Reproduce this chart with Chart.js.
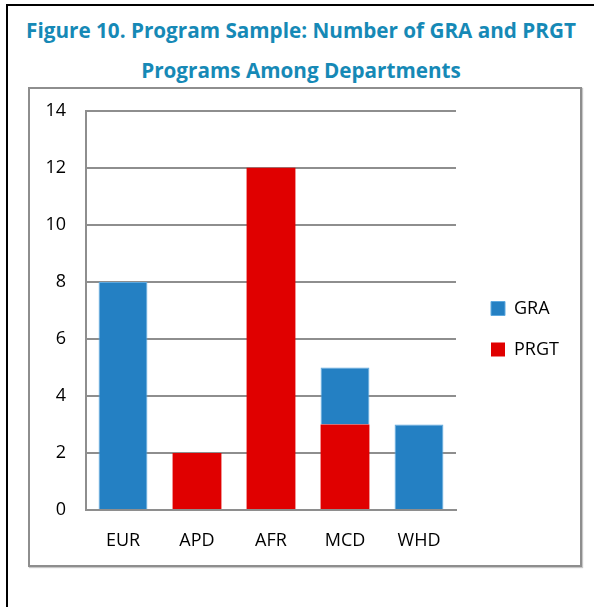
<!DOCTYPE html>
<html>
<head>
<meta charset="utf-8">
<script src="https://cdn.jsdelivr.net/npm/chart.js@4/dist/chart.umd.min.js"></script>
<style>
  html, body { margin: 0; padding: 0; background: #fff; }
  body { width: 594px; height: 607px; position: relative; overflow: hidden; font-family: "Open Sans", sans-serif; }
  #frame { position: absolute; left: 6px; top: 4px; width: 700px; height: 700px; border-top: 2px solid #000; border-left: 2px solid #000; }
  .title { position: absolute; left: 0; width: 602px; text-align: center; color: #1689b6; font-weight: bold; font-size: 20.7px; white-space: nowrap; line-height: 28px; }
  #box { position: absolute; left: 28px; top: 87px; width: 550px; height: 476px; border: 2px solid #8e8e8e; box-shadow: 1px 1px 1px #c8c8c8; }
  #chartWrap { position: absolute; left: 0; top: -9px; width: 550px; height: 485px; }
</style>
</head>
<body>
<div id="frame"></div>
<div class="title" style="top:16px;">Figure 10. Program Sample: Number of GRA and PRGT</div>
<div class="title" style="top:56px;">Programs Among Departments</div>
<div id="box"><div id="chartWrap"><canvas id="c" width="550" height="485"></canvas></div></div>
<script>
const categories = ["EUR", "APD", "AFR", "MCD", "WHD"];
const graValues  = [8, 0, 0, 2, 3];
const prgtValues = [0, 2, 12, 3, 0];
const yTicks = [0, 2, 4, 6, 8, 10, 12, 14];

const fixLegend = {
  id: 'fixLegend',
  beforeLayout(chart) {
    const lg = chart.legend;
    if (lg && !lg._patched) {
      const orig = lg.fit;
      lg.fit = function () { orig.call(this); this.width = 124; };
      lg._patched = true;
    }
  },
  afterLayout(chart) {
    const lg = chart.legend;
    if (!lg) return;
    const dx = 12, dy = 0;
    lg.left += dx; lg.right += dx;
    lg.top += dy; lg.bottom += dy;
  }
};

new Chart(document.getElementById('c'), {
  type: 'bar',
  data: {
    labels: categories,
    datasets: [
      { label: 'PRGT', data: prgtValues, backgroundColor: '#e00000', borderWidth: 0 },
      { label: 'GRA', data: graValues, backgroundColor: '#2480c3', borderColor: '#5ea9df', borderWidth: 1 }
    ]
  },
  options: {
    responsive: false,
    animation: false,
    devicePixelRatio: 1,
    layout: { padding: { top: 13, left: 0, right: 0, bottom: 0 } },
    datasets: { bar: { barPercentage: 0.66, categoryPercentage: 1 } },
    scales: {
      x: {
        stacked: true,
        grid: { display: false, drawTicks: false },
        border: { display: true, color: '#8e8e8e', width: 2 },
        ticks: { color: '#000', font: { family: 'Open Sans', size: 18 }, padding: 20 },
        afterFit(s) { s.height = 55; }
      },
      y: {
        stacked: true,
        min: 0, max: 14,
        afterBuildTicks(s) { s.ticks = yTicks.map(v => ({ value: v })); },
        grid: { color: '#8e8e8e', lineWidth: 2, drawTicks: false },
        border: { display: true, color: '#8e8e8e', width: 2 },
        ticks: { color: '#000', font: { family: 'Open Sans', size: 18 }, padding: 20 },
        afterFit(s) { s.width = 56; }
      }
    },
    plugins: {
      legend: {
        position: 'right',
        reverse: true,
        padding: 36,
        labels: { boxWidth: 14, boxHeight: 14, padding: 23, color: '#000', font: { family: 'Open Sans', size: 18 } }
      },
      tooltip: { enabled: false },
      title: { display: false }
    }
  },
  plugins: [fixLegend]
});
</script>
</body>
</html>
